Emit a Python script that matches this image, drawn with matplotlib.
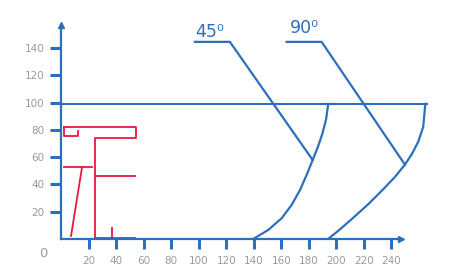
import matplotlib.pyplot as plt

blue = '#2c70bd'
red = '#e8183f'
grey = '#9a9a9a'

x_ticks = [20, 40, 60, 80, 100, 120, 140, 160, 180, 200, 220, 240]
y_ticks = [20, 40, 60, 80, 100, 120, 140]

# curved walls
arc45_x = [139.7, 150.5, 160.3, 167.5, 173.6, 178.4, 182.8, 186.6, 189.8, 192.5, 194.1]
arc45_y = [0, 6.6, 15.2, 24.9, 35.9, 46.9, 57.9, 67.5, 77.0, 87.5, 99]
arc90_x = [194, 202, 211.1, 223.2, 234.1, 242.6, 249.8, 254.7, 259.5, 263.1, 264.6]
arc90_y = [0, 6.5, 14.5, 25.5, 36.5, 45.5, 54.5, 62.0, 71.3, 82.3, 99]

level_y = 99
level_end = 266.5

# label leaders
lead45_x = [97.3, 122.7, 182.8]
lead45_y = [144.5, 144.5, 57.9]
lead90_x = [163.9, 189.3, 249.8]
lead90_y = [144.5, 144.5, 54.5]

# red figure
e_x = [2.2, 54.5, 54.5, 24.7, 24.7, 54]
e_y = [82, 82, 74, 74, 1, 1]
bar_x = [24.7, 53.7]
bar_y = [46, 46]
notch_x = [2.2, 2.2, 12.3, 12.3]
notch_y = [82, 75.5, 75.5, 79]
t_top_x = [2.2, 22.5]
t_top_y = [52.8, 52.8]
t_leg_x = [15.3, 7.3]
t_leg_y = [52.8, 2.2]
stub_x = [37, 37]
stub_y = [1, 8]

x_axis_end = 247
y_axis_end = 157

fig = plt.figure(figsize=(4.56, 2.8), dpi=100)
ax = fig.add_axes([0, 0, 1, 1])
ax.set_xlim(-44.3, 286.9)
ax.set_ylim(-30.1, 175.2)

for side in ['top', 'right']:
    ax.spines[side].set_visible(False)
ax.spines['left'].set_position(('data', 0))
ax.spines['bottom'].set_position(('data', 0))
ax.spines['left'].set_bounds(0, y_axis_end)
ax.spines['bottom'].set_bounds(0, x_axis_end)
for side in ['left', 'bottom']:
    ax.spines[side].set_color(blue)
    ax.spines[side].set_linewidth(1.6)

ax.set_xticks(x_ticks)
ax.set_yticks(y_ticks)
ax.tick_params(axis='x', direction='out', length=7, width=2.2, color=blue,
               labelcolor=grey, labelsize=7.5, pad=5.5)
ax.tick_params(axis='y', direction='out', length=8, width=2.2, color=blue,
               labelcolor=grey, labelsize=7.5, pad=4)
ax.text(-13, -11, '0', color=grey, fontsize=9.5, ha='center', va='center')

ax.plot([0], [y_axis_end], marker='^', color=blue, markersize=4.5, clip_on=False)
ax.plot([x_axis_end], [0], marker='>', color=blue, markersize=4.5, clip_on=False)

ax.hlines(level_y, 0, level_end, color=blue, lw=1.5)
ax.plot(arc45_x, arc45_y, color=blue, lw=1.6, solid_joinstyle='round')
ax.plot(arc90_x, arc90_y, color=blue, lw=1.6, solid_joinstyle='round')
ax.plot(lead45_x, lead45_y, color=blue, lw=1.6)
ax.plot(lead90_x, lead90_y, color=blue, lw=1.6)
ax.text(97.3, 148, '45⁰', color=blue, fontsize=12.5, ha='left', va='baseline')
ax.text(166.3, 151, '90⁰', color=blue, fontsize=12.5, ha='left', va='baseline')

for xs, ys in [(e_x, e_y), (bar_x, bar_y), (notch_x, notch_y), (t_top_x, t_top_y),
               (t_leg_x, t_leg_y), (stub_x, stub_y)]:
    ax.plot(xs, ys, color=red, lw=1.3)

fig.savefig('out.png', dpi=100)
